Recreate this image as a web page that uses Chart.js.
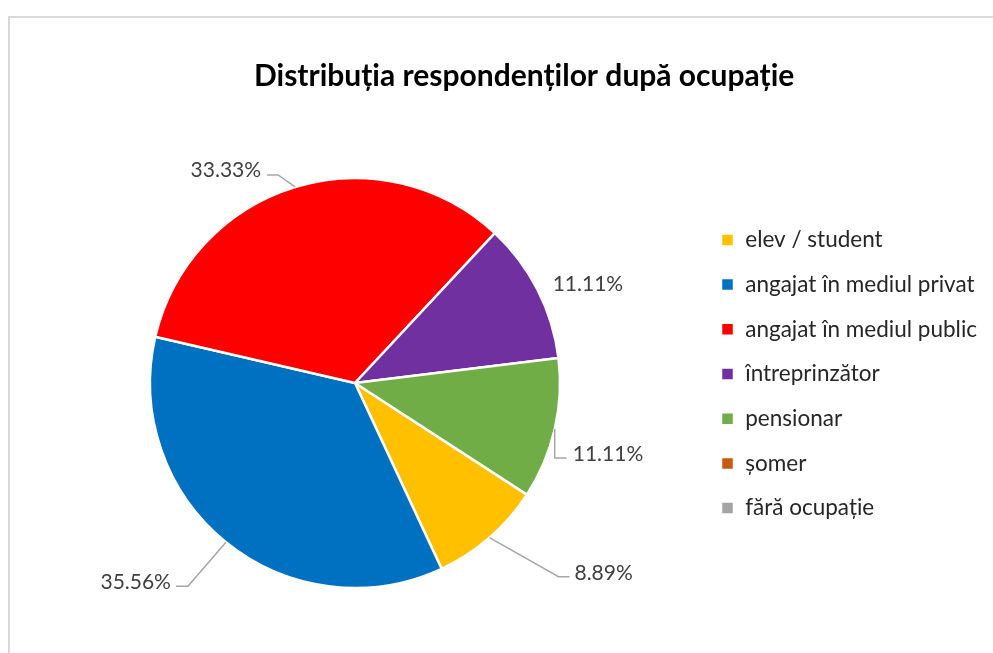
<!DOCTYPE html>
<html><head><meta charset="utf-8">
<script src="https://cdn.jsdelivr.net/npm/chart.js@4"></script>
<style>html,body{margin:0;padding:0;background:#fff;overflow:hidden} canvas{display:block}</style>
</head><body>
<canvas id="c" width="993" height="653"></canvas>
<script>
// ---- data ----
const categories = ['elev / student', 'angajat în mediul privat', 'angajat în mediul public', 'întreprinzător', 'pensionar', 'șomer', 'fără ocupație'];
const values = [8.89, 35.56, 33.33, 11.11, 11.11, 0, 0];
const colors = ['#FFC000', '#0070C0', '#FF0000', '#7030A0', '#70AD47', '#C55A11', '#A5A5A5'];
const titleText = 'Distribuția respondenților după ocupație';

// ---- style / layout ----
const FONT = 'Lato, "Open Sans", sans-serif';
const legendFontSize = 22.5;
const labelFontSize = 21;
const legendRowPad = 22.2;
const legendBoxX = 721;
const legendCenterY = 374;
const pieCenterX = 355;
const pieRadius = 205;
const titleShiftX = 50;
const labelLayout = [
  {dx: 85, dy: 35, align: 'left', leader: [[-16, 4], [-5, 4]]},
  {dx: -55, dy: 39, align: 'right', leader: [[17, 5], [5, 5]]},
  {dx: -34, dy: -17, align: 'right', leader: [[17, 5], [6, 5]]},
  {dx: 15, dy: -6, align: 'left', leader: null},
  {dx: 18, dy: 24, align: 'left', leader: [[-18, 5], [-6, 5]]}
];

const mctx = document.createElement('canvas').getContext('2d');
mctx.font = legendFontSize + 'px ' + FONT;
const maxTextW = Math.max(...categories.map(c => mctx.measureText(c).width));
const legendLeft = legendBoxX - legendRowPad;
const legendWidth = legendRowPad + 13 + legendFontSize / 2 + maxTextW + 10;
const padLeft = 2 * pieCenterX - legendLeft;
const padRight = Math.max(0, 993 - legendLeft - legendWidth);

const framePlugin = {
  id: 'frame',
  beforeDraw(chart) {
    const ctx = chart.ctx;
    ctx.save();
    ctx.fillStyle = '#ffffff';
    ctx.fillRect(0, 0, chart.width, chart.height);
    ctx.strokeStyle = '#d9d9d9';
    ctx.lineWidth = 2;
    ctx.strokeRect(9, 17, chart.width + 50, chart.height + 50);
    ctx.restore();
  }
};

const layoutTweak = {
  id: 'layoutTweak',
  afterLayout(chart) {
    const lg = chart.legend;
    const shift = legendCenterY - (lg.top + lg.bottom) / 2;
    lg.top += shift; lg.bottom += shift;
    if (chart.titleBlock) chart.titleBlock.left += titleShiftX;
  }
};

const labelPlugin = {
  id: 'pctLabels',
  afterDatasetsDraw(chart) {
    const ctx = chart.ctx;
    const meta = chart.getDatasetMeta(0);
    ctx.save();
    ctx.font = labelFontSize + 'px ' + FONT;
    ctx.fillStyle = '#404040';
    ctx.strokeStyle = '#a6a6a6';
    ctx.lineWidth = 1.5;
    meta.data.forEach((arc, i) => {
      const v = values[i];
      if (!v || !labelLayout[i]) return;
      const L = labelLayout[i];
      const p = arc.getProps(['x', 'y', 'startAngle', 'endAngle', 'outerRadius'], true);
      const mid = (p.startAngle + p.endAngle) / 2;
      const px = p.x + Math.cos(mid) * p.outerRadius;
      const py = p.y + Math.sin(mid) * p.outerRadius;
      const lx = px + L.dx, ly = py + L.dy;
      if (L.leader) {
        ctx.beginPath();
        ctx.moveTo(px, py);
        L.leader.forEach(q => ctx.lineTo(lx + q[0], ly + q[1]));
        ctx.stroke();
      }
      ctx.textAlign = L.align;
      ctx.textBaseline = 'alphabetic';
      ctx.fillText(v.toFixed(2) + '%', lx, ly + 7.5);
    });
    ctx.restore();
  }
};

new Chart(document.getElementById('c'), {
  type: 'pie',
  data: {
    labels: categories,
    datasets: [{
      data: values,
      backgroundColor: colors,
      borderColor: '#ffffff',
      borderWidth: 2.5,
      hoverOffset: 0
    }]
  },
  options: {
    responsive: false,
    animation: false,
    rotation: 123,
    radius: pieRadius,
    layout: {padding: {left: padLeft, right: padRight, top: 0, bottom: 0}},
    plugins: {
      title: {
        display: true,
        text: titleText,
        color: '#000000',
        font: {family: FONT, size: 30, weight: 'bold'},
        padding: {top: 58, bottom: 19}
      },
      legend: {
        position: 'right',
        labels: {
          boxWidth: 13,
          boxHeight: 13,
          padding: legendRowPad,
          color: '#262626',
          font: {family: FONT, size: legendFontSize}
        }
      },
      tooltip: {enabled: false}
    }
  },
  plugins: [framePlugin, layoutTweak, labelPlugin]
});
</script>
</body></html>
